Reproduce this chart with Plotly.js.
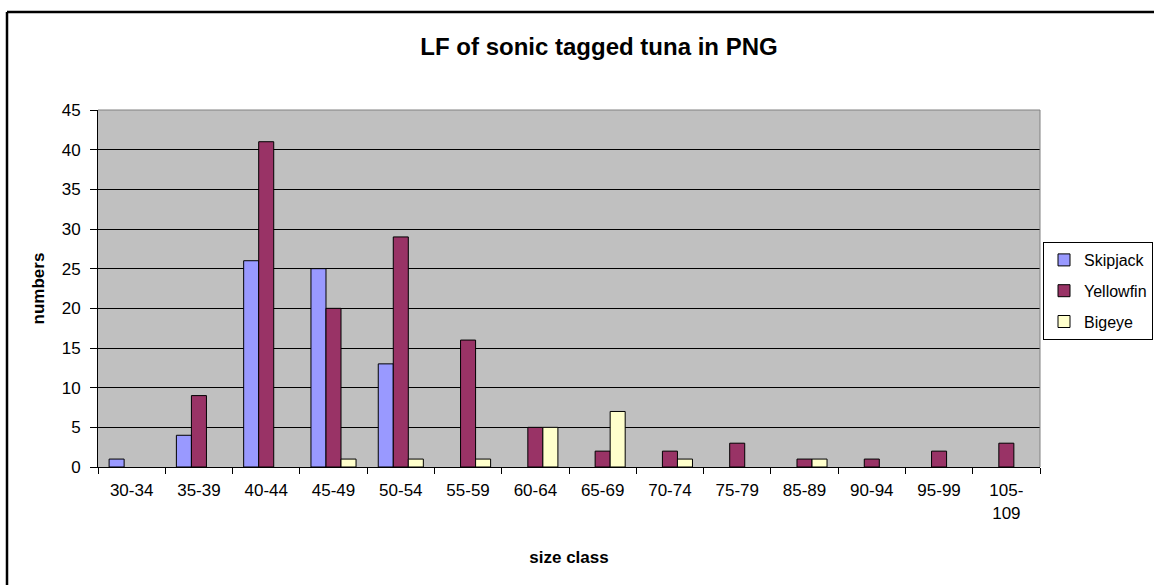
<!DOCTYPE html>
<html>
<head>
<meta charset="utf-8">
<script src="https://cdn.plot.ly/plotly-3.0.1.min.js"></script>
<style>
  html, body { margin: 0; padding: 0; background: #ffffff; }
  #chart { width: 1154px; height: 585px; }
</style>
</head>
<body>
<div id="chart"></div>
<script>
const categories = ["30-34", "35-39", "40-44", "45-49", "50-54", "55-59", "60-64", "65-69", "70-74", "75-79", "85-89", "90-94", "95-99", "105-<br>109"];
const skipjack  = [1, 4, 26, 25, 13, 0, 0, 0, 0, 0, 0, 0, 0, 0];
const yellowfin = [0, 9, 41, 20, 29, 16, 5, 2, 2, 3, 1, 1, 2, 3];
const bigeye    = [0, 0, 0, 1, 1, 1, 5, 7, 1, 0, 1, 0, 0, 0];
const yTicks = [0, 5, 10, 15, 20, 25, 30, 35, 40, 45];

const FONT = "Liberation Sans, Arial, sans-serif";

function barTrace(name, values, color, group) {
  return {
    type: "bar",
    name: name,
    x: categories,
    // zero counts draw no bar (as in the source chart)
    y: values.map(v => (v === 0 ? null : v)),
    legendgroup: group,
    marker: { color: color, line: { color: "#000000", width: 1 } },
    hoverinfo: "x+y+name"
  };
}

const data = [
  barTrace("Skipjack", skipjack, "#9999FF", "a"),
  barTrace("Yellowfin", yellowfin, "#993366", "b"),
  barTrace("Bigeye", bigeye, "#FFFFCC", "c")
];

// plot area in pixels: x 98..1040, y 110..467
const L = 98, R = 1040, T = 110, B = 467, W = 1154, H = 585;
const pw = R - L, ph = B - T;
const px = v => (v - L) / pw;
const py = v => (B - v) / ph;

const layout = {
  width: W,
  height: H,
  margin: { l: L, r: W - R, t: T, b: H - B, autoexpand: false },
  paper_bgcolor: "#ffffff",
  plot_bgcolor: "#C0C0C0",
  font: { family: FONT, size: 17, color: "#000000" },
  title: {
    text: "<b>LF of sonic tagged tuna in PNG</b>",
    font: { family: FONT, size: 24, color: "#000000" },
    xref: "container", yref: "container",
    x: 599 / W, xanchor: "center",
    y: 1 - 47 / H, yanchor: "middle"
  },
  barmode: "group",
  bargap: 0.33,
  bargroupgap: 0,
  xaxis: {
    type: "category",
    tickson: "boundaries",
    ticks: "outside",
    ticklen: 6,
    tickcolor: "#000000",
    tickwidth: 1,
    ticklabelstandoff: 8,
    showline: true,
    linecolor: "#000000",
    linewidth: 1,
    showgrid: false,
    zeroline: false,
    tickfont: { family: FONT, size: 17, color: "#000000" },
    title: {
      text: "<b>size class</b>",
      font: { family: FONT, size: 17, color: "#000000" },
      standoff: 29
    },
    automargin: false,
    fixedrange: true
  },
  yaxis: {
    range: [0, 45],
    tickmode: "array",
    tickvals: yTicks,
    ticktext: yTicks.map(String),
    ticks: "outside",
    ticklen: 7,
    tickcolor: "#000000",
    tickwidth: 1,
    ticklabelstandoff: 6,
    showline: true,
    linecolor: "#000000",
    linewidth: 1,
    showgrid: true,
    gridcolor: "#000000",
    gridwidth: 1,
    zeroline: false,
    tickfont: { family: FONT, size: 17, color: "#000000" },
    title: {
      text: "<b>numbers</b>",
      font: { family: FONT, size: 17, color: "#000000" },
      standoff: 12
    },
    automargin: false,
    fixedrange: true
  },
  showlegend: true,
  legend: {
    x: px(1043), xanchor: "left",
    y: py(242), yanchor: "top",
    bgcolor: "#ffffff",
    bordercolor: "#000000",
    borderwidth: 1,
    font: { family: FONT, size: 16, color: "#000000" },
    tracegroupgap: 7,
    itemwidth: 30,
    traceorder: "grouped"
  },
  shapes: [
    // gray plot border top and right
    { type: "line", xref: "paper", yref: "paper", x0: 0, x1: 1, y0: 1, y1: 1, line: { color: "#808080", width: 1 } },
    { type: "line", xref: "paper", yref: "paper", x0: 1, x1: 1, y0: 0, y1: 1, line: { color: "#808080", width: 1 } },
    // outer chart frame (top and left visible)
    { type: "line", xref: "paper", yref: "paper", x0: px(7), x1: px(W + 5), y0: py(12), y1: py(12), line: { color: "#000000", width: 2.5 } },
    { type: "line", xref: "paper", yref: "paper", x0: px(7), x1: px(7), y0: py(12), y1: py(H + 5), line: { color: "#000000", width: 2.5 } }
  ]
};

Plotly.newPlot("chart", data, layout, { displayModeBar: false, staticPlot: true });
</script>
</body>
</html>
